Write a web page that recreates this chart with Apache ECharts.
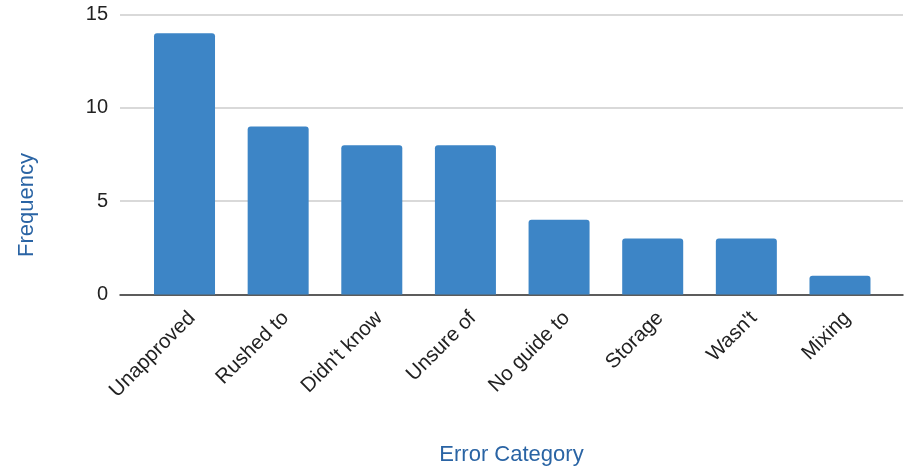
<!DOCTYPE html>
<html><head><meta charset="utf-8">
<script src="https://cdn.jsdelivr.net/npm/echarts@6/dist/echarts.min.js"></script>
<style>html,body{margin:0;padding:0;background:#fff}#c{width:904px;height:467px}</style>
</head><body><div id="c"></div>
<script>
const categories = ["Unapproved", "Rushed to", "Didn't know", "Unsure of", "No guide to", "Storage", "Wasn't", "Mixing"];
const frequency = [14, 9, 8, 8, 4, 3, 3, 1];
const yTicks = [0, 5, 10, 15];
const xTitle = "Error Category";
const yTitle = "Frequency";

const font = "Liberation Sans, Arial, sans-serif";
const chart = echarts.init(document.getElementById('c'), null, {renderer: 'canvas'});
chart.setOption({
  animation: false,
  backgroundColor: '#fff',
  grid: [
    {left: 137.7, right: 17.2, top: 14.5, bottom: 172.5, containLabel: false, outerBoundsMode: 'none'},
    {left: 120, right: 1, top: 14.5, bottom: 172.5, containLabel: false, outerBoundsMode: 'none'}
  ],
  xAxis: [
    {type: 'category', gridIndex: 0, data: categories,
     axisLine: {show: false}, axisTick: {show: false},
     axisLabel: {rotate: 45, interval: 0, margin: 13, verticalAlign: 'top', fontSize: 20.5, color: '#222', fontFamily: font}},
    {type: 'value', gridIndex: 1, min: 0, max: 1, show: true,
     axisLabel: {show: false}, axisTick: {show: false}, splitLine: {show: false},
     axisLine: {show: true, onZero: false, lineStyle: {color: '#333', width: 1.5}},
     name: xTitle, nameLocation: 'middle', nameGap: 149,
     nameTextStyle: {fontSize: 22, color: '#2a64a4', fontFamily: font}}
  ],
  yAxis: [
    {type: 'value', gridIndex: 0, min: 0, max: 15, interval: 5, show: false},
    {type: 'value', gridIndex: 1, min: yTicks[0], max: yTicks[yTicks.length-1], interval: 5,
     axisLine: {show: false}, axisTick: {show: false},
     axisLabel: {margin: 12, fontSize: 20, color: '#222', fontFamily: font},
     splitLine: {lineStyle: {color: '#cccccc', width: 1.5}}}
  ],
  graphic: [
    {type: 'text', left: 16, top: 153, rotation: Math.PI/2,
     style: {text: yTitle, fontSize: 22, fill: '#2a64a4', fontFamily: font}}
  ],
  series: [
    {type: 'bar', xAxisIndex: 0, yAxisIndex: 0, data: frequency, barWidth: 61,
     itemStyle: {color: '#3d85c6', borderRadius: [3, 3, 0, 0]}}
  ]
});
</script></body></html>
